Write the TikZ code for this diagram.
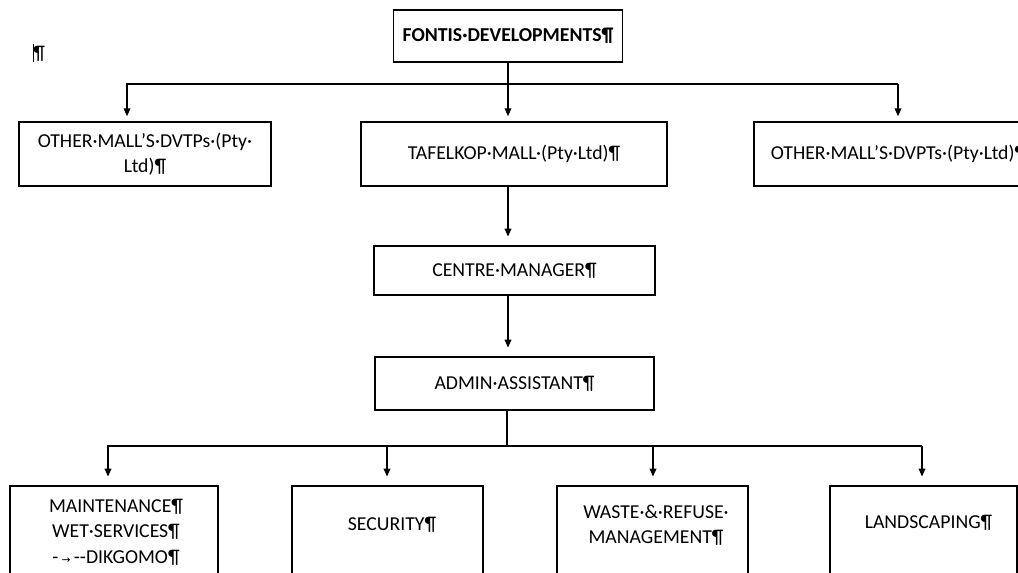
\documentclass[tikz,border=0pt]{standalone}
\usepackage{fontspec}
\setmainfont{Carlito}
\newfontfamily\tabmarkfont{DejaVu Sans}
\usetikzlibrary{arrows.meta}

\begin{document}
\begin{tikzpicture}[x=0.75pt,y=-0.75pt,
  every node/.style={font=\fontsize{14.8}{19}\selectfont},
  unit/.style={draw, line width=1.1pt, align=center, inner sep=0pt},
  unittext/.style={align=center, inner sep=0pt},
  link/.style={line width=1.1pt},
  arrow/.style={link, -{Triangle[width=5pt,length=6pt]}, shorten >=6.5pt}]
%% page
\useasboundingbox (0,0) rectangle (1018,572);
\node (para) at (39,53) {\rule[-2pt]{0.8pt}{13pt}\kern-0.6pt¶};

%% holding company
\node[unit, minimum width=171.75pt, minimum height=39pt, font=\fontsize{14.8}{19}\selectfont\bfseries] (fontis) at (508,36) {FONTIS·DEVELOPMENTS¶};

%% companies
\node[unit, minimum width=189pt, minimum height=48pt] (mallL) at (145,154) {OTHER·MALL’S·DVTPs·(Pty·\\Ltd)¶};
\node[unit, minimum width=229.5pt, minimum height=48pt] (tafelkop) at (514,154) {TAFELKOP·MALL·(Pty·Ltd)¶};
\node[unit, minimum width=216.75pt, minimum height=48pt] (mallR) at (898.5,154) {OTHER·MALL’S·DVPTs·(Pty·Ltd)¶};

%% management
\node[unit, minimum width=210.75pt, minimum height=36.75pt] (centre) at (514.5,270.5) {CENTRE·MANAGER¶};
\node[unit, minimum width=209.25pt, minimum height=39.75pt] (admin) at (514.5,383.5) {ADMIN·ASSISTANT¶};

%% services
\node[unit, minimum width=156pt, minimum height=100.5pt] (maint) at (114,553) {};
\node[unit, minimum width=143.25pt, minimum height=100.5pt] (secur) at (387.5,553) {};
\node[unit, minimum width=143.25pt, minimum height=100.5pt] (waste) at (652.5,553) {};
\node[unit, minimum width=140.25pt, minimum height=100.5pt] (landsc) at (923.5,553) {};
\node[unittext] (maint-t) at (116,532) {MAINTENANCE¶\\WET·SERVICES¶\\-\,{\tabmarkfont\fontsize{8}{8}\selectfont →}\,-{}-DIKGOMO¶};
\node[unittext] (secur-t) at (392,525) {SECURITY¶};
\node[unittext] (waste-t) at (656,525.5) {WASTE·\&·REFUSE·\\MANAGEMENT¶};
\node[unittext] (landsc-t) at (928.5,523) {LANDSCAPING¶};

%% top connectors
\coordinate (topL) at (127,84);
\coordinate (topR) at (898,84);
\draw[link] (fontis.south) -- (fontis.south |- topL);
\draw[arrow, shorten >=3.75pt] (topR) -- (topL) -- (topL |- mallL.north);
\draw[arrow, shorten >=3.75pt] (topR) -- (topR |- mallR.north);
\draw[arrow, shorten >=3.75pt] (fontis.south |- topL) -- (fontis.south |- tafelkop.north);

%% chain
\draw[arrow] (tafelkop.south -| fontis.south) -- (centre.north -| fontis.south);
\draw[arrow] (centre.south -| fontis.south) -- (admin.north -| fontis.south);

%% bottom connectors
\coordinate (lowbus) at (507,446);
\coordinate (lowL) at (108,446);
\coordinate (lowB) at (387,446);
\coordinate (lowC) at (653,446);
\coordinate (lowR) at (922,446);
\draw[link] (admin.south -| lowbus) -- (lowbus);
\draw[arrow] (lowR) -- (lowL) -- (lowL |- maint.north);
\draw[arrow] (lowB) -- (lowB |- secur.north);
\draw[arrow] (lowC) -- (lowC |- waste.north);
\draw[arrow] (lowR) -- (lowR |- landsc.north);

\end{tikzpicture}
\end{document}
